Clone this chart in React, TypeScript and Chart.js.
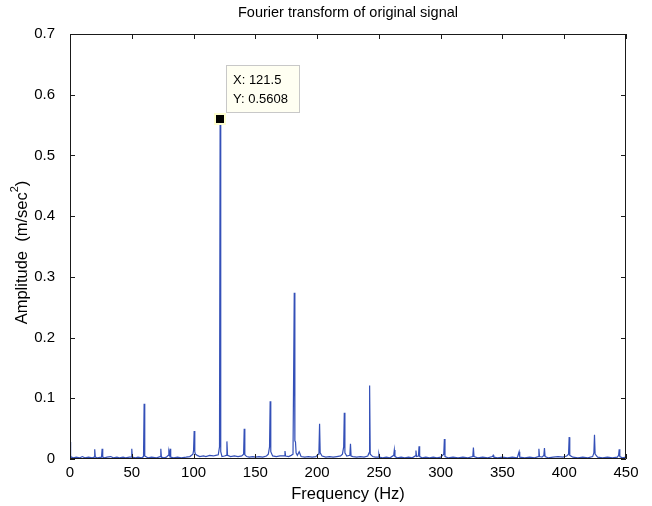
import React, { useEffect, useRef } from "react";
import { Chart, registerables } from "chart.js";

Chart.register(...registerables);

const chartTitle = "Fourier transform of original signal";
const xAxisTitle = "Frequency (Hz)";
const yAxisTitleMain = "Amplitude  (m/sec";
const yAxisTitleSup = "2";
const yAxisTitleEnd = ")";

const xTickValues = [0, 50, 100, 150, 200, 250, 300, 350, 400, 450];
const yTickValues = [0, 0.1, 0.2, 0.3, 0.4, 0.5, 0.6, 0.7];

const cursorPoint = { x: 121.5, y: 0.5608 };
const cursorLines = ["X: 121.5", "Y: 0.5608"];

const frequencies = [
  0, 0.5, 1, 3, 5, 8, 10, 12, 15, 18,
  19.5, 20, 20.5, 22, 25.5, 26, 26.5, 28, 30, 33,
  35, 38, 40, 43, 45, 48, 49.5, 50, 50.5, 53,
  55, 58, 59.5, 60, 60.5, 63, 66, 70, 73, 73.5,
  74, 76, 78, 79.5, 80, 80.5, 81, 81.5, 84, 87,
  90, 94, 97, 99.5, 100, 100.5, 101, 101.5, 103, 105,
  108, 110, 113, 116, 118, 120, 121, 121.5, 122, 123,
  125, 126.5, 127, 127.5, 130, 133, 136, 139, 140.5, 141,
  141.5, 143, 145, 148, 150, 153, 156, 159, 160.5, 161.5,
  162, 162.5, 164, 167, 170, 173.5, 174, 174.5, 177, 179,
  180.5, 181.5, 182, 182.5, 183, 184, 185.5, 187, 190, 193,
  196, 199, 201, 201.5, 202, 202.5, 204, 207, 210, 213,
  216, 219, 220.5, 221.5, 222, 222.5, 224, 226.5, 227, 227.5,
  229, 232, 235, 238, 241, 242, 242.5, 243, 245, 247,
  249.5, 250, 250.5, 253, 256, 259, 262, 262.5, 263, 265,
  268, 271, 274, 277, 279.5, 280, 280.5, 282, 282.5, 283,
  285, 288, 291, 294, 297, 300, 302.5, 303, 303.5, 306,
  310, 314, 318, 322, 326, 326.5, 327, 330, 334, 338,
  342, 342.5, 343, 346, 350, 354, 358, 362, 363.5, 364,
  368, 372, 376, 379, 379.5, 380, 382, 383.5, 384, 384.5,
  387, 391, 395, 399, 402, 403.5, 404, 404.5, 407, 411,
  415, 419, 423, 424, 424.5, 425, 427, 431, 435, 439,
  443, 444, 444.5, 445, 447, 450,
];

const amplitudes = [
  0.028, 0.006, 0.003, 0.002, 0.003, 0.002, 0.004, 0.002, 0.003, 0.002,
  0.003, 0.016, 0.003, 0.002, 0.003, 0.017, 0.003, 0.002, 0.003, 0.004,
  0.002, 0.003, 0.002, 0.003, 0.002, 0.003, 0.003, 0.017, 0.003, 0.002,
  0.003, 0.002, 0.004, 0.091, 0.005, 0.002, 0.003, 0.002, 0.004, 0.017,
  0.003, 0.002, 0.003, 0.006, 0.012, 0.007, 0.017, 0.003, 0.002, 0.003,
  0.002, 0.003, 0.004, 0.008, 0.014, 0.046, 0.012, 0.008, 0.006, 0.004,
  0.005, 0.004, 0.006, 0.005, 0.006, 0.007, 0.02, 0.5608, 0.012, 0.004,
  0.005, 0.006, 0.029, 0.006, 0.004, 0.005, 0.004, 0.005, 0.008, 0.05,
  0.007, 0.004, 0.003, 0.004, 0.003, 0.004, 0.003, 0.005, 0.008, 0.02,
  0.095, 0.012, 0.005, 0.004, 0.005, 0.005, 0.013, 0.005, 0.004, 0.006,
  0.008, 0.274, 0.03, 0.028, 0.01, 0.006, 0.012, 0.004, 0.003, 0.004,
  0.003, 0.004, 0.008, 0.015, 0.058, 0.01, 0.005, 0.003, 0.004, 0.003,
  0.004, 0.005, 0.008, 0.02, 0.076, 0.01, 0.005, 0.006, 0.025, 0.005,
  0.004, 0.003, 0.004, 0.003, 0.005, 0.01, 0.121, 0.008, 0.004, 0.003,
  0.003, 0.008, 0.003, 0.002, 0.003, 0.002, 0.006, 0.015, 0.004, 0.002,
  0.003, 0.002, 0.003, 0.002, 0.005, 0.014, 0.004, 0.005, 0.021, 0.004,
  0.002, 0.003, 0.002, 0.003, 0.002, 0.003, 0.008, 0.033, 0.004, 0.002,
  0.003, 0.002, 0.003, 0.002, 0.004, 0.019, 0.004, 0.002, 0.003, 0.002,
  0.004, 0.006, 0.003, 0.002, 0.003, 0.002, 0.003, 0.002, 0.012, 0.003,
  0.002, 0.003, 0.002, 0.004, 0.017, 0.004, 0.003, 0.006, 0.018, 0.004,
  0.002, 0.003, 0.004, 0.003, 0.005, 0.008, 0.036, 0.006, 0.003, 0.002,
  0.003, 0.002, 0.004, 0.01, 0.04, 0.008, 0.003, 0.002, 0.003, 0.002,
  0.003, 0.006, 0.016, 0.004, 0.002, 0.003,
];

const FONT = "'Liberation Sans', Arial, Helvetica, sans-serif";
const LINE_COLOR = "#3450B8";
const TICK_SIZE = 15;
const AXIS_TITLE_SIZE = 16.5;

const decorPlugin = {
  id: "matlabDecor",
  afterDatasetsDraw(chart: any) {
    const { ctx, chartArea, scales } = chart;
    const xs = scales.x;
    const ys = scales.y;
    const { left, right, top, bottom } = chartArea;
    ctx.save();
    // frame
    ctx.strokeStyle = "#1a1a1a";
    ctx.lineWidth = 1;
    ctx.beginPath();
    ctx.rect(Math.round(left) + 0.5, Math.round(top) + 0.5, Math.round(right - left) - 1, Math.round(bottom - top) - 1);
    ctx.stroke();
    // inside ticks
    const tl = 5;
    ctx.beginPath();
    xTickValues.forEach((v) => {
      const px = Math.round(xs.getPixelForValue(v)) + 0.5;
      ctx.moveTo(px, bottom);
      ctx.lineTo(px, bottom - tl);
      ctx.moveTo(px, top);
      ctx.lineTo(px, top + tl);
    });
    yTickValues.forEach((v) => {
      const py = Math.round(ys.getPixelForValue(v)) + 0.5;
      ctx.moveTo(left, py);
      ctx.lineTo(left + tl, py);
      ctx.moveTo(right, py);
      ctx.lineTo(right - tl, py);
    });
    ctx.stroke();

    // data cursor
    const cx = xs.getPixelForValue(cursorPoint.x);
    const cy = ys.getPixelForValue(cursorPoint.y);
    ctx.fillStyle = "#FFFFD0";
    ctx.fillRect(Math.round(cx) - 6, Math.round(cy) - 6, 12, 12);
    ctx.fillStyle = "#000";
    ctx.fillRect(Math.round(cx) - 4, Math.round(cy) - 4, 8, 8);

    const bx = Math.round(cx) + 6;
    const by = Math.round(cy) - 54;
    const bw = 74;
    const bh = 48;
    ctx.fillStyle = "#FFFFF2";
    ctx.fillRect(bx, by, bw, bh);
    ctx.strokeStyle = "#C8C8C8";
    ctx.strokeRect(bx + 0.5, by + 0.5, bw - 1, bh - 1);
    ctx.fillStyle = "#000";
    ctx.font = `13px ${FONT}`;
    ctx.textAlign = "left";
    ctx.textBaseline = "middle";
    ctx.fillText(cursorLines[0], bx + 7, by + 15);
    ctx.fillText(cursorLines[1], bx + 7, by + 34);

    // title
    ctx.font = `14.5px ${FONT}`;
    ctx.textAlign = "center";
    ctx.fillText(chartTitle, (left + right) / 2, 13);
    // x title
    ctx.font = `${AXIS_TITLE_SIZE}px ${FONT}`;
    ctx.fillText(xAxisTitle, (left + right) / 2, 494);
    // y title with superscript
    ctx.translate(22, (top + bottom) / 2 + 6);
    ctx.rotate(-Math.PI / 2);
    ctx.font = `${AXIS_TITLE_SIZE}px ${FONT}`;
    const w1 = ctx.measureText(yAxisTitleMain).width;
    const w3 = ctx.measureText(yAxisTitleEnd).width;
    ctx.font = `11px ${FONT}`;
    const w2 = ctx.measureText(yAxisTitleSup).width;
    const total = w1 + w2 + w3;
    let x0 = -total / 2;
    ctx.textAlign = "left";
    ctx.font = `${AXIS_TITLE_SIZE}px ${FONT}`;
    ctx.fillText(yAxisTitleMain, x0, 0);
    x0 += w1;
    ctx.font = `11px ${FONT}`;
    ctx.fillText(yAxisTitleSup, x0, -7);
    x0 += w2;
    ctx.font = `${AXIS_TITLE_SIZE}px ${FONT}`;
    ctx.fillText(yAxisTitleEnd, x0, 0);
    ctx.restore();
  },
};

export default function App() {
  const canvasRef = useRef<HTMLCanvasElement | null>(null);

  useEffect(() => {
    const canvas = canvasRef.current;
    if (!canvas) return;
    const points = frequencies.map((f, i) => ({ x: f, y: amplitudes[i] }));
    const chart = new Chart(canvas, {
      type: "line",
      data: {
        datasets: [
          {
            data: points,
            borderColor: LINE_COLOR,
            borderWidth: 1.2,
            pointRadius: 0,
            tension: 0,
            fill: false,
          },
        ],
      },
      options: {
        animation: false,
        responsive: false,
        devicePixelRatio: 1,
        layout: { padding: { left: 0, top: 34, right: 26, bottom: 0 } },
        plugins: {
          legend: { display: false },
          tooltip: { enabled: false },
          title: { display: false },
        },
        scales: {
          x: {
            type: "linear",
            min: 0,
            max: 450,
            afterBuildTicks: (scale: any) => {
              scale.ticks = xTickValues.map((v) => ({ value: v }));
            },
            ticks: {
              autoSkip: false,
              maxRotation: 0,
              padding: -3,
              color: "#000",
              font: { family: FONT, size: TICK_SIZE },
              callback: (v: any) => String(v),
            },
            grid: { display: false },
            border: { display: false },
            afterFit: (scale: any) => {
              scale.height = 47;
            },
          },
          y: {
            type: "linear",
            min: 0,
            max: 0.7,
            afterBuildTicks: (scale: any) => {
              scale.ticks = yTickValues.map((v) => ({ value: v }));
            },
            ticks: {
              autoSkip: false,
              padding: 7,
              color: "#000",
              font: { family: FONT, size: TICK_SIZE },
              callback: (v: any) => (Number(v) === 0 ? "0" : Number(v).toFixed(1)),
            },
            grid: { display: false },
            border: { display: false },
            afterFit: (scale: any) => {
              scale.width = 70;
            },
          },
        },
      },
      plugins: [decorPlugin],
    });
    return () => chart.destroy();
  }, []);

  return (
    <div style={{ position: "absolute", left: 0, top: 0, width: 652, height: 506, background: "#fff" }}>
      <canvas ref={canvasRef} width={652} height={506} style={{ width: 652, height: 506 }} />
    </div>
  );
}
